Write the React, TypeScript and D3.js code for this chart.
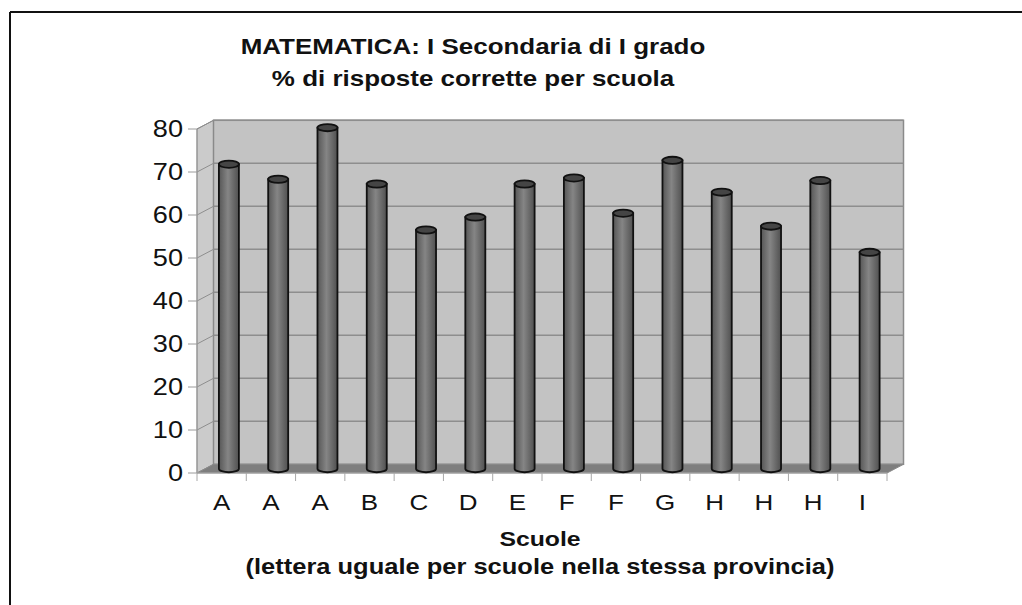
import React from 'react';
import * as d3 from 'd3';

// schools (same letter = same province) and % correct answers
const schools = ['A', 'A', 'A', 'B', 'C', 'D', 'E', 'F', 'F', 'G', 'H', 'H', 'H', 'I'];
const percent = [70.8, 67.3, 79.3, 66.2, 55.5, 58.5, 66.2, 67.6, 59.4, 71.7, 64.3, 56.4, 67.0, 50.3];
const yTicks = [0, 10, 20, 30, 40, 50, 60, 70, 80];
const titleLines = ['MATEMATICA: I Secondaria di I grado', '% di risposte corrette per scuola'];
const xTitleLines = ['Scuole', '(lettera uguale per scuole nella stessa provincia)'];

const W = 1022, H = 605;
const FONT = 'Liberation Sans, Arial, Helvetica, sans-serif';
// 3d depth offset
const DX = 16.5, DY = -8.7;
// the source picture is a bit stretched sideways
const SX = 1.18;

function T({ x, y, size, bold, anchor = 'middle', dy, children }: any) {
  return (
    <text transform={`translate(${x},${y}) scale(${SX},1)`} dy={dy} textAnchor={anchor}
      fontFamily={FONT} fontWeight={bold ? 'bold' : 'normal'} fontSize={size} fill="#111">
      {children}
    </text>
  );
}

export default function App() {
  const x = d3.scaleBand<number>()
    .domain(d3.range(schools.length))
    .range([197, 887]);
  const y = d3.scaleLinear().domain([0, 80]).range([473, 129]);

  const x0 = 197, x1 = 887;
  const y0 = y(0), yTop = y(80);
  const barW = 20;
  const ry = 3.6;

  const pts = (arr: number[][]) => arr.map(p => p.join(',')).join(' ');

  return (
    <div style={{ position: 'absolute', left: 0, top: 0 }}>
      <svg width={W} height={H} style={{ display: 'block', background: '#fff' }}>
        <defs>
          <linearGradient id="cyl" x1="0" x2="1" y1="0" y2="0">
            <stop offset="0%" stopColor="#565656" />
            <stop offset="45%" stopColor="#858585" />
            <stop offset="100%" stopColor="#505050" />
          </linearGradient>
        </defs>

        {/* frame */}
        <line x1={10} x2={10} y1={12} y2={H} stroke="#111" strokeWidth={2} />
        <line x1={10} x2={W} y1={12} y2={12} stroke="#111" strokeWidth={2} />

        {/* title */}
        {titleLines.map((t, i) => (
          <T key={t} x={473} y={54 + i * 32} size={22} bold>{t}</T>
        ))}

        {/* walls */}
        <polygon points={pts([[x0, y0], [x0 + DX, y0 + DY], [x0 + DX, yTop + DY], [x0, yTop]])}
          fill="#cbcbcb" stroke="#8a8a8a" strokeWidth={1} />
        <rect x={x0 + DX} y={yTop + DY} width={x1 - x0} height={y0 - yTop}
          fill="#c3c3c3" stroke="#8a8a8a" strokeWidth={1.5} />
        <polygon points={pts([[x0, y0], [x1, y0], [x1 + DX, y0 + DY], [x0 + DX, y0 + DY]])}
          fill="#7e7e7e" stroke="#8a8a8a" strokeWidth={1} />

        {/* gridlines */}
        {yTicks.filter(t => t > 0).map(t => (
          <g key={t}>
            <line x1={x0 + DX} x2={x1 + DX} y1={y(t) + DY} y2={y(t) + DY} stroke="#8e8e8e" strokeWidth={1.5} />
            <line x1={x0} x2={x0 + DX} y1={y(t)} y2={y(t) + DY} stroke="#8e8e8e" strokeWidth={1} />
          </g>
        ))}

        {/* y axis */}
        <line x1={x0} x2={x0} y1={yTop} y2={y0} stroke="#9a9a9a" />
        {yTicks.map(t => (
          <g key={t}>
            <line x1={x0 - 9} x2={x0} y1={y(t)} y2={y(t)} stroke="#9a9a9a" />
            <T x={183} y={y(t)} dy="0.36em" anchor="end" size={23}>{t}</T>
          </g>
        ))}

        {/* x axis */}
        <line x1={x0} x2={x1} y1={y0} y2={y0} stroke="#a8a8a8" />
        {d3.range(schools.length + 1).map(i => {
          const xx = x0 + i * x.bandwidth();
          return <line key={i} x1={xx} x2={xx} y1={y0} y2={y0 + 8} stroke="#a8a8a8" />;
        })}
        {schools.map((s, i) => (
          <T key={i} x={(x(i) as number) + x.bandwidth() / 2} y={510} size={22}>{s}</T>
        ))}

        {/* cylinders */}
        {percent.map((v, i) => {
          const cx = (x(i) as number) + x.bandwidth() / 2 + DX / 2 - 1;
          const yb = y(0) + DY / 2;
          const yt = y(v) + DY / 2;
          const l = cx - barW / 2, r = cx + barW / 2;
          const body = `M${l},${yt} L${l},${yb} A${barW / 2},${ry} 0 0 0 ${r},${yb} L${r},${yt} Z`;
          return (
            <g key={i}>
              <path d={body} fill="url(#cyl)" stroke="#111" strokeWidth={1.8} />
              <ellipse cx={cx} cy={yt} rx={barW / 2} ry={ry} fill="#454545" stroke="#111" strokeWidth={1.8} />
            </g>
          );
        })}

        {/* x title */}
        {xTitleLines.map((t, i) => (
          <T key={t} x={540} y={546 + i * 28} size={i === 0 ? 21 : 21.6} bold>{t}</T>
        ))}
      </svg>
    </div>
  );
}
